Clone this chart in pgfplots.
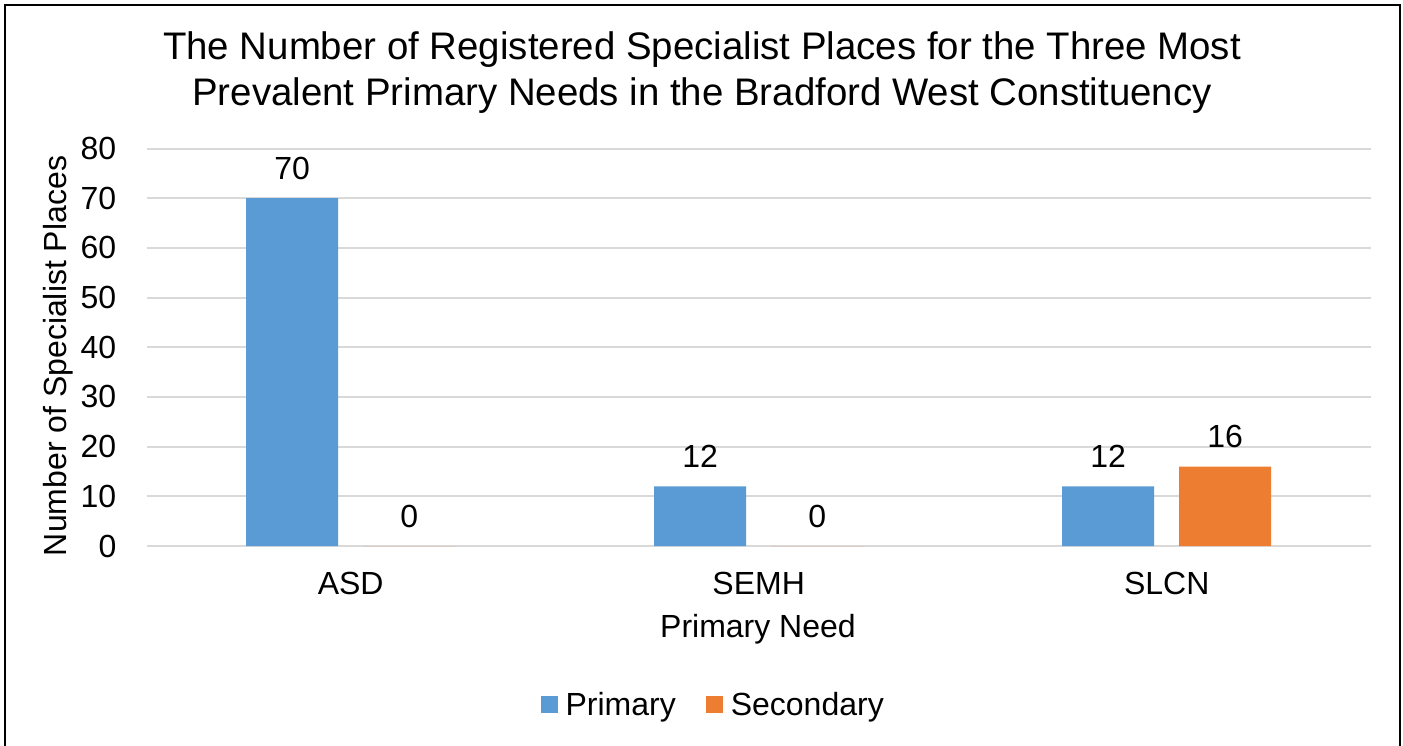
\documentclass[border=0pt]{standalone}
\usepackage{pgfplots}
\pgfplotsset{compat=1.18}
\usepackage{fontspec}
\setmainfont{Liberation Sans}
\definecolor{cblue}{HTML}{5B9BD5}
\definecolor{corange}{HTML}{ED7D31}
\definecolor{cgrid}{HTML}{D9D9D9}
\begin{document}
\begin{tikzpicture}
\useasboundingbox (0,0) rectangle (701.5pt,372.5pt);
\fill[white] (0,0) rectangle (701.5pt,372.5pt);
\draw[line width=1pt] (2.5pt,-5pt) -- (2.5pt,370pt) -- (700pt,370pt) -- (700pt,-5pt);
\begin{axis}[
  at={(73.35pt,99.5pt)}, anchor=south west,
  scale only axis, width=612pt, height=198.75pt,
  xmin=-0.5, xmax=2.5, ymin=0, ymax=80,
  ybar, bar width=46pt,
  xtick={0,1,2}, xticklabels={ASD,SEMH,SLCN},
  ytick={0,10,...,80},
  /pgf/number format/assume math mode=true,
  axis line style={draw=none},
  major tick length=0pt,
  ymajorgrids, grid style={cgrid, line width=1pt},
  yticklabel style={font=\fontsize{16}{18}\selectfont, anchor=east, inner sep=0pt, xshift=-15pt},
  xticklabel style={font=\fontsize{16}{18}\selectfont, anchor=north, inner sep=0pt, yshift=-13pt},
  title={The Number of Registered Specialist Places for the Three Most\\Prevalent Primary Needs in the Bradford West Constituency},
  title style={at={(axis description cs:0.4537,1.16)}, anchor=center, align=center, font=\fontsize{19.2}{23}\selectfont},
  xlabel={Primary Need},
  xlabel style={at={(axis description cs:0.4994,-0.21)}, anchor=center, font=\fontsize{16}{18}\selectfont},
  ylabel={Number of Specialist Places},
  ylabel style={at={(axis description cs:-0.0725,0.478)}, anchor=center, rotate=0, font=\fontsize{16}{18}\selectfont},
  nodes near coords,
  every node near coord/.append style={font=\fontsize{16}{18}\selectfont, anchor=south, inner sep=0pt, yshift=9pt},
  legend columns=2,
  legend style={at={(axis description cs:0.462,-0.4)}, anchor=center, draw=none, fill=none,
    font=\fontsize{16}{18}\selectfont,
    /tikz/every odd column/.append style={column sep=4pt},
    /tikz/every even column/.append style={column sep=15pt},
    nodes={inner sep=0pt}},
  legend image code/.code={\fill[#1] (0pt,-4.25pt) rectangle (8.5pt,4.25pt);},
]
\addplot[fill=cblue, draw=none, bar shift=-29.25pt] coordinates {(0,70) (1,12) (2,12)};
\addplot[fill=corange, draw=none, bar shift=29.25pt] coordinates {(0,0) (1,0) (2,16)};
\legend{Primary,Secondary}
\end{axis}
\end{tikzpicture}
\end{document}
